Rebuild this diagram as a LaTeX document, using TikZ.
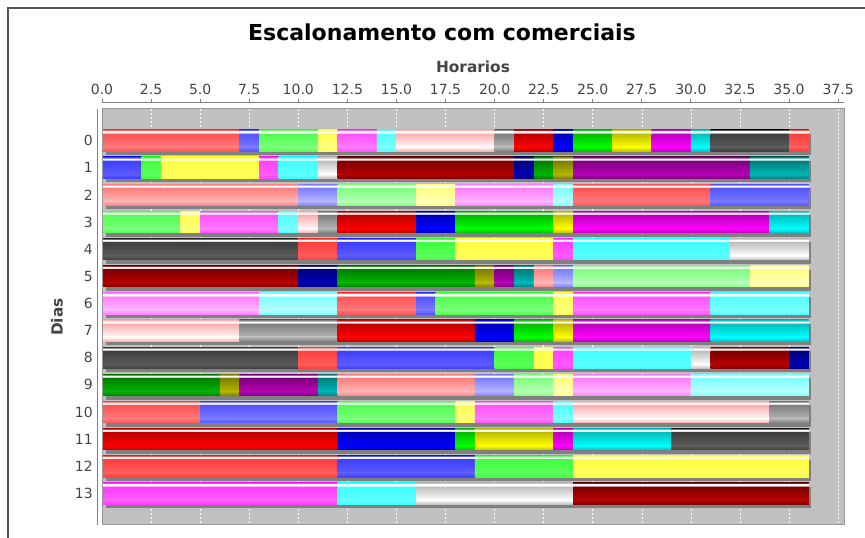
\documentclass[tikz,border=0pt]{standalone}
\usepackage{fontspec}
\setmainfont{DejaVu Sans}
\definecolor{s0}{HTML}{FF5555}\definecolor{b0}{HTML}{FF7979}
\definecolor{s1}{HTML}{5555FF}\definecolor{b1}{HTML}{7979FF}
\definecolor{s2}{HTML}{55FF55}\definecolor{b2}{HTML}{79FF79}
\definecolor{s3}{HTML}{FFFF55}\definecolor{b3}{HTML}{FFFF79}
\definecolor{s4}{HTML}{FF55FF}\definecolor{b4}{HTML}{FF79FF}
\definecolor{s5}{HTML}{55FFFF}\definecolor{b5}{HTML}{79FFFF}
\definecolor{s6}{HTML}{FFAFAF}\definecolor{b6}{HTML}{FFFAFA}
\definecolor{s7}{HTML}{808080}\definecolor{b7}{HTML}{B6B6B6}
\definecolor{s8}{HTML}{C00000}\definecolor{b8}{HTML}{FF0000}
\definecolor{s9}{HTML}{0000C0}\definecolor{b9}{HTML}{0000FF}
\definecolor{s10}{HTML}{00C000}\definecolor{b10}{HTML}{00FF00}
\definecolor{s11}{HTML}{C0C000}\definecolor{b11}{HTML}{FFFF00}
\definecolor{s12}{HTML}{C000C0}\definecolor{b12}{HTML}{FF00FF}
\definecolor{s13}{HTML}{00C0C0}\definecolor{b13}{HTML}{00FFFF}
\definecolor{s14}{HTML}{404040}\definecolor{b14}{HTML}{5B5B5B}
\definecolor{s15}{HTML}{FF4040}\definecolor{b15}{HTML}{FF5B5B}
\definecolor{s16}{HTML}{4040FF}\definecolor{b16}{HTML}{5B5BFF}
\definecolor{s17}{HTML}{40FF40}\definecolor{b17}{HTML}{5BFF5B}
\definecolor{s18}{HTML}{FFFF40}\definecolor{b18}{HTML}{FFFF5B}
\definecolor{s19}{HTML}{FF40FF}\definecolor{b19}{HTML}{FF5BFF}
\definecolor{s20}{HTML}{40FFFF}\definecolor{b20}{HTML}{5BFFFF}
\definecolor{s21}{HTML}{C0C0C0}\definecolor{b21}{HTML}{FFFFFF}
\definecolor{s22}{HTML}{800000}\definecolor{b22}{HTML}{B60000}
\definecolor{s23}{HTML}{000080}\definecolor{b23}{HTML}{0000B6}
\definecolor{s24}{HTML}{008000}\definecolor{b24}{HTML}{00B600}
\definecolor{s25}{HTML}{808000}\definecolor{b25}{HTML}{B6B600}
\definecolor{s26}{HTML}{800080}\definecolor{b26}{HTML}{B600B6}
\definecolor{s27}{HTML}{008080}\definecolor{b27}{HTML}{00B6B6}
\definecolor{s28}{HTML}{FF8080}\definecolor{b28}{HTML}{FFB6B6}
\definecolor{s29}{HTML}{8080FF}\definecolor{b29}{HTML}{B6B6FF}
\definecolor{s30}{HTML}{80FF80}\definecolor{b30}{HTML}{B6FFB6}
\definecolor{s31}{HTML}{FFFF80}\definecolor{b31}{HTML}{FFFFB6}
\definecolor{s32}{HTML}{FF80FF}\definecolor{b32}{HTML}{FFB6FF}
\definecolor{s33}{HTML}{80FFFF}\definecolor{b33}{HTML}{B6FFFF}
\definecolor{plotbg}{HTML}{C0C0C0}
\definecolor{shadowgray}{HTML}{808080}
\definecolor{axgray}{HTML}{808080}
\definecolor{lblgray}{HTML}{444444}
\definecolor{framegray}{HTML}{555555}
\tikzset{
  gridln/.style={draw=white, line width=0.45pt, dash pattern=on 1.5pt off 1.5pt},
  axisln/.style={draw=axgray, line width=0.75pt},
  ticklbl/.style={font=\fontsize{10.5}{12}\selectfont, text=lblgray, anchor=base, inner sep=0pt},
  rowlbl/.style={font=\fontsize{10.5}{12}\selectfont, text=lblgray, anchor=east, inner sep=0pt},
  axtitle/.style={font=\bfseries\fontsize{11.5}{13}\selectfont, text=lblgray, inner sep=0pt},
  shadowbox/.style={fill=shadowgray},
}
\begin{document}
\begin{tikzpicture}[x=0.75pt,y=-0.75pt]
\useasboundingbox (0,0) rectangle (865,538);
% outer frame (partly visible)
\draw[framegray, line width=0.9pt] (8,540) -- (8,8) -- (867,8);
% titles
\node[font=\bfseries\fontsize{16.5}{20}\selectfont, anchor=base, inner sep=0pt] (title) at (442,41) {Escalonamento com comerciais};
\node[axtitle, anchor=base] (xlabel) at (473,73) {Horarios};
\node[axtitle, rotate=90, anchor=center] (ylabel) at (57,317) {Dias};
% plot background
\fill[plotbg] (102,109) rectangle (844,525);
% gridlines
\foreach \v in {2.5,5,...,37.5}{
  \pgfmathsetmacro\gx{102+\v*19.6296}
  \draw[gridln] (\gx,109) -- (\gx,525);
}
% axes
\draw[axisln] (102,103) -- (844,103);
\draw[axisln] (97,109) -- (97,525);
\foreach \v [count=\i] in {0.0,2.5,5.0,7.5,10.0,12.5,15.0,17.5,20.0,22.5,25.0,27.5,30.0,32.5,35.0,37.5}{
  \pgfmathsetmacro\gx{102+\v*19.6296}
  \draw[axisln, line width=0.6pt] (\gx,99.5) -- (\gx,103);
  \node[ticklbl] (tk\i) at (\gx,95) {\v};
}
% bars
\foreach \rw/\segs in {
 0/{0/7/0,7/8/1,8/11/2,11/12/3,12/14/4,14/15/5,15/20/6,20/21/7,21/23/8,23/24/9,24/26/10,26/28/11,28/30/12,30/31/13,31/35/14,35/36/15},
 1/{0/2/16,2/3/17,3/8/18,8/9/19,9/11/20,11/12/21,12/21/22,21/22/23,22/23/24,23/24/25,24/33/26,33/36/27},
 2/{0/10/28,10/12/29,12/16/30,16/18/31,18/23/32,23/24/33,24/31/0,31/36/1},
 3/{0/4/2,4/5/3,5/9/4,9/10/5,10/11/6,11/12/7,12/16/8,16/18/9,18/23/10,23/24/11,24/34/12,34/36/13},
 4/{0/10/14,10/12/15,12/16/16,16/18/17,18/23/18,23/24/19,24/32/20,32/36/21},
 5/{0/10/22,10/12/23,12/19/24,19/20/25,20/21/26,21/22/27,22/23/28,23/24/29,24/33/30,33/36/31},
 6/{0/8/32,8/12/33,12/16/0,16/17/1,17/23/2,23/24/3,24/31/4,31/36/5},
 7/{0/7/6,7/12/7,12/19/8,19/21/9,21/23/10,23/24/11,24/31/12,31/36/13},
 8/{0/10/14,10/12/15,12/20/16,20/22/17,22/23/18,23/24/19,24/30/20,30/31/21,31/35/22,35/36/23},
 9/{0/6/24,6/7/25,7/11/26,11/12/27,12/19/28,19/21/29,21/23/30,23/24/31,24/30/32,30/36/33},
 10/{0/5/0,5/12/1,12/18/2,18/19/3,19/23/4,23/24/5,24/34/6,34/36/7},
 11/{0/12/8,12/18/9,18/19/10,19/23/11,23/24/12,24/29/13,29/36/14},
 12/{0/12/15,12/19/16,19/24/17,24/36/18},
 13/{0/12/19,12/16/20,16/24/21,24/36/22}}{
  \pgfmathsetmacro\rt{129.8+\rw*27.1543}
  \pgfmathsetmacro\ra{\rt+2.14}
  \pgfmathsetmacro\rb{\rt+4.28}
  \pgfmathsetmacro\rc{\rt+17.12}
  \pgfmathsetmacro\rd{\rt+21.39}
  \fill[shadowbox] (106,\rt+4) rectangle (810.7,\rd+4);
  \node[rowlbl] (row\rw) at (93,\rt+10.7) {\rw};
  \foreach \segA/\segB/\segC in \segs {
    \pgfmathsetmacro\xa{102+\segA*19.6296}
    \pgfmathsetmacro\xb{102+\segB*19.6296+0.3}
    \shade[top color=s\segC, bottom color=white] (\xa,\rt) rectangle (\xb,\ra+0.3);
    \shade[top color=white, bottom color=s\segC] (\xa,\ra) rectangle (\xb,\rb+0.3);
    \shade[top color=s\segC, bottom color=b\segC] (\xa,\rb) rectangle (\xb,\rc+0.3);
    \shade[top color=b\segC, bottom color=s\segC] (\xa,\rc) rectangle (\xb,\rd);
  }
}
% plot outline
\draw[draw=gray!80, line width=0.75pt] (102,109) rectangle (844,525);
\end{tikzpicture}
\end{document}
